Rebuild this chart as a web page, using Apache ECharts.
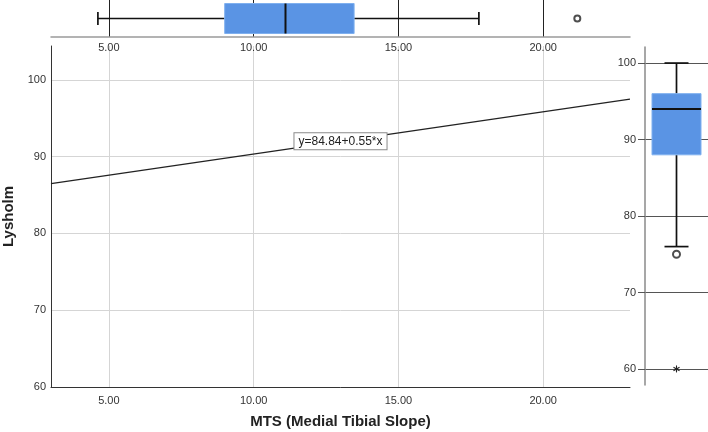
<!DOCTYPE html>
<html><head><meta charset="utf-8">
<script src="https://cdn.jsdelivr.net/npm/echarts@6/dist/echarts.min.js"></script>
<style>html,body{margin:0;padding:0;background:#fff}#c{width:708px;height:432px}</style>
</head><body><div id="c"></div>
<script>
// ---- data ----
const xTicks = [5, 10, 15, 20];
const yTicks = [60, 70, 80, 90, 100];
const xName = 'MTS (Medial Tibial Slope)';
const yName = 'Lysholm';
const fitX = [3, 23];
const fitY = [86.49, 97.49];
const fitLabel = 'y=84.84+0.55*x';
// box plot summaries: [min whisker, Q1, median, Q3, max whisker]
const mtsBox = [4.62, 9.0, 11.1, 13.47, 17.78];
const mtsOutliers = [21.18];
const lysBox = [76, 88, 94, 96, 100];
const lysOutliers = [75];
const lysExtremes = [60];

// ---- styles ----
const FONT = 'Liberation Sans, Arial, sans-serif';
const BOX_FILL = '#5a94e4';
const BOX_EDGE = '#7fb0ef';
const INK = '#111';

function hBox(params, api) {
  const v = [0,1,2,3,4].map(i => api.value(i));
  const p = v.map(x => api.coord([x, api.value(5)]));
  const yc = p[0][1], half = 15, cap = 6.5;
  const ls = {stroke: INK, lineWidth: 1.7};
  return {type: 'group', children: [
    {type: 'line', shape: {x1: p[0][0], y1: yc, x2: p[1][0], y2: yc}, style: ls},
    {type: 'line', shape: {x1: p[3][0], y1: yc, x2: p[4][0], y2: yc}, style: ls},
    {type: 'line', shape: {x1: p[0][0], y1: yc - cap, x2: p[0][0], y2: yc + cap}, style: ls},
    {type: 'line', shape: {x1: p[4][0], y1: yc - cap, x2: p[4][0], y2: yc + cap}, style: ls},
    {type: 'rect', shape: {x: p[1][0], y: yc - half, width: p[3][0] - p[1][0], height: 2 * half},
      style: {fill: BOX_FILL, stroke: BOX_EDGE, lineWidth: 1}},
    {type: 'line', shape: {x1: p[2][0], y1: yc - half, x2: p[2][0], y2: yc + half}, style: {stroke: INK, lineWidth: 2}}
  ]};
}
function vBox(params, api) {
  const v = [1,2,3,4,5].map(i => api.value(i));
  const p = v.map(y => api.coord([api.value(0), y]));
  const xc = p[0][0], half = 24.5, cap = 12;
  const ls = {stroke: INK, lineWidth: 1.7};
  return {type: 'group', children: [
    {type: 'line', shape: {x1: xc, y1: p[0][1], x2: xc, y2: p[1][1]}, style: ls},
    {type: 'line', shape: {x1: xc, y1: p[3][1], x2: xc, y2: p[4][1]}, style: ls},
    {type: 'line', shape: {x1: xc - cap, y1: p[0][1], x2: xc + cap, y2: p[0][1]}, style: ls},
    {type: 'line', shape: {x1: xc - cap, y1: p[4][1], x2: xc + cap, y2: p[4][1]}, style: ls},
    {type: 'rect', shape: {x: xc - half, y: p[3][1], width: 2 * half, height: p[1][1] - p[3][1]},
      style: {fill: BOX_FILL, stroke: BOX_EDGE, lineWidth: 1}},
    {type: 'line', shape: {x1: xc - half, y1: p[2][1], x2: xc + half, y2: p[2][1]}, style: {stroke: INK, lineWidth: 2}}
  ]};
}
function asterisk(params, api) {
  const c = api.coord([api.value(0), api.value(1)]);
  const r = 3.5, ls = {stroke: '#222', lineWidth: 1.1};
  const kids = [0, 60, 120].map(a => {
    const t = a * Math.PI / 180, dx = r * Math.sin(t), dy = r * Math.cos(t);
    return {type: 'line', shape: {x1: c[0] - dx, y1: c[1] - dy, x2: c[0] + dx, y2: c[1] + dy}, style: ls};
  });
  return {type: 'group', children: kids};
}

const labelFont = {fontFamily: FONT, fontSize: 11, color: '#333'};
const midX = (fitX[0] + fitX[1]) / 2, midY = (fitY[0] + fitY[1]) / 2;

const option = {
  animation: false,
  backgroundColor: '#fff',
  grid: [
    {left: 51, top: 46, width: 579, height: 341, outerBoundsMode: 'none', containLabel: false},
    {left: 51, top: 0, width: 579, height: 37, outerBoundsMode: 'none', containLabel: false},
    {left: 645, top: 47, width: 63, height: 338, outerBoundsMode: 'none', containLabel: false}
  ],
  xAxis: [
    {gridIndex: 0, type: 'value', min: 3, max: 23,
      axisLine: {show: true, lineStyle: {color: '#333', width: 1}},
      axisTick: {show: false, customValues: xTicks},
      axisLabel: Object.assign({customValues: xTicks, margin: 8, formatter: v => v.toFixed(2)}, labelFont),
      splitLine: {show: true, lineStyle: {color: '#d5d5d5', width: 1}},
      name: xName, nameLocation: 'middle', nameGap: 27,
      nameTextStyle: {fontFamily: FONT, fontSize: 15, fontWeight: 'bold', color: '#222'}},
    {gridIndex: 1, type: 'value', min: 3, max: 23,
      axisLine: {show: true, lineStyle: {color: '#9a9a9a', width: 1.5}},
      axisTick: {show: false, customValues: xTicks},
      axisLabel: Object.assign({customValues: xTicks, margin: 5, formatter: v => v.toFixed(2)}, labelFont),
      splitLine: {show: true, lineStyle: {color: '#222', width: 1}}},
    {gridIndex: 2, type: 'category', data: [''], show: false}
  ],
  yAxis: [
    {gridIndex: 0, type: 'value', min: 60, max: 104.4,
      axisLine: {show: true, lineStyle: {color: '#333', width: 1}},
      axisTick: {show: false, customValues: yTicks},
      axisLabel: Object.assign({customValues: yTicks, margin: 5}, labelFont),
      splitLine: {show: true, lineStyle: {color: '#d5d5d5', width: 1}},
      name: yName, nameLocation: 'middle', nameGap: 34,
      nameTextStyle: {fontFamily: FONT, fontSize: 15, fontWeight: 'bold', color: '#222'}},
    {gridIndex: 1, type: 'category', data: [''], show: false},
    {gridIndex: 2, type: 'value', min: 57.9, max: 102.1,
      axisLine: {show: true, lineStyle: {color: '#8a8a8a', width: 1.5}},
      axisTick: {show: true, length: 7, customValues: yTicks, lineStyle: {color: '#555'}},
      axisLabel: Object.assign({customValues: yTicks, margin: 9}, labelFont),
      splitLine: {show: true, lineStyle: {color: '#555', width: 1}}}
  ],
  series: [
    {type: 'line', xAxisIndex: 0, yAxisIndex: 0, symbol: 'none',
      data: fitX.map((x, i) => [x, fitY[i]]),
      lineStyle: {color: '#222', width: 1.3},
      markPoint: {symbol: 'rect', symbolSize: [1, 1], itemStyle: {color: 'rgba(0,0,0,0)'},
        label: {show: true, position: 'inside', formatter: fitLabel, fontFamily: FONT, fontSize: 12,
          color: '#222', backgroundColor: '#fff', borderColor: '#8a8a8a', borderWidth: 1, padding: [2, 4]},
        data: [{coord: [midX, midY]}]}},
    {type: 'custom', xAxisIndex: 1, yAxisIndex: 1, renderItem: hBox,
      encode: {x: [0, 1, 2, 3, 4], y: 5}, data: [[...mtsBox, 0]]},
    {type: 'scatter', xAxisIndex: 1, yAxisIndex: 1, symbol: 'emptyCircle', symbolSize: 6,
      itemStyle: {color: '#222', borderWidth: 1}, data: mtsOutliers.map(v => [v, 0])},
    {type: 'custom', xAxisIndex: 2, yAxisIndex: 2, renderItem: vBox,
      encode: {x: 0, y: [1, 2, 3, 4, 5]}, data: [[0, ...lysBox]]},
    {type: 'scatter', xAxisIndex: 2, yAxisIndex: 2, symbol: 'emptyCircle', symbolSize: 7,
      itemStyle: {color: '#222', borderWidth: 1}, data: lysOutliers.map(v => [0, v])},
    {type: 'custom', xAxisIndex: 2, yAxisIndex: 2, renderItem: asterisk,
      encode: {x: 0, y: 1}, data: lysExtremes.map(v => [0, v])}
  ]
};
echarts.init(document.getElementById('c'), null, {renderer: 'canvas'}).setOption(option);
</script>
</body></html>
